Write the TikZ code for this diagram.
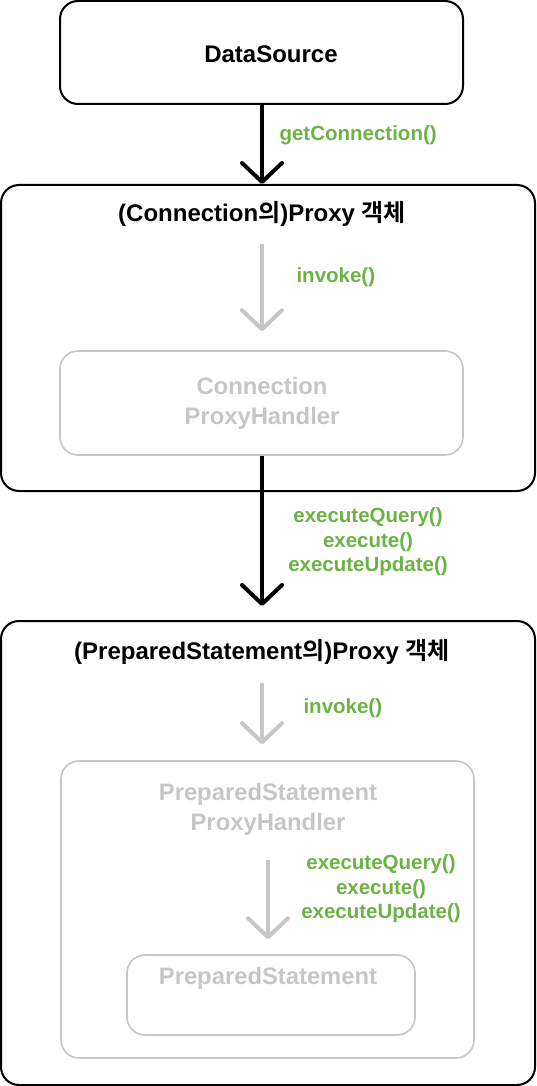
\documentclass[tikz,border=0pt]{standalone}
\usepackage{fontspec}
\setmainfont{Liberation Sans}
\newfontfamily\kr{Noto Sans CJK KR}[BoldFont={Noto Sans CJK KR Bold}]
\usetikzlibrary{arrows.meta}
\definecolor{callgreen}{HTML}{6AB344}
\definecolor{fadegray}{HTML}{C6C6C6}
\tikzset{
  box/.style={draw, line width=2pt, rounded corners=18pt, inner sep=0pt},
  fadebox/.style={draw=fadegray, line width=1.6pt, rounded corners=18pt, inner sep=0pt},
  boxtext/.style={font=\bfseries\fontsize{24}{28}\selectfont},
  fadetext/.style={text=fadegray, font=\bfseries\fontsize{23.8}{30}\selectfont, align=center},
  calltext/.style={text=callgreen, font=\bfseries\fontsize{20.5}{24.5}\selectfont, align=center},
  callarrow/.style={line width=4pt, -{Straight Barb[length=19pt,width=40pt,round]}},
  fadearrow/.style={callarrow, draw=fadegray},
}
\begin{document}
\begin{tikzpicture}[x=1pt,y=-1pt]
\useasboundingbox (0,0) rectangle (536,1086);
\node [box, minimum width=403pt, minimum height=103pt] (ds) at (261.5,52.5) {};
\node [boxtext] (dstext) at (271,54) {DataSource};
\node [box, minimum width=534pt, minimum height=306pt] (connproxy) at (268,338) {};
\node [boxtext] (conntitle) at (262,214) {(Connection{\kr 의})Proxy {\kr 객체}};
\node [fadebox, minimum width=403pt, minimum height=104pt] (connhandler) at (261.5,403) {};
\node [fadetext] (connhandlertext) at (262,403) {Connection\\ProxyHandler};
\node [box, minimum width=534pt, minimum height=464pt] (psproxy) at (268,853) {};
\node [boxtext] (pstitle) at (262,652) {(PreparedStatement{\kr 의})Proxy {\kr 객체}};
\node [fadebox, minimum width=413pt, minimum height=297pt] (pshandler) at (267.5,909.5) {};
\node [fadetext] (pshandlertext) at (268,809) {PreparedStatement\\ProxyHandler};
\node [fadebox, minimum width=288pt, minimum height=80pt] (ps) at (271,995) {};
\node [fadetext] (pstext) at (268,978) {PreparedStatement};
\coordinate (connin) at (262,244);
\coordinate (psin) at (262,683);
\coordinate (psout) at (268,860);
\coordinate (connout) at (262,606);
\draw [callarrow] (ds.south -| connin) -- (connproxy.north -| connin);
\node [calltext, anchor=west] (getconn) at (276,135) {getConnection()};
\draw [fadearrow, shorten >=19pt] (connin) -- (connin |- connhandler.north);
\node [calltext, anchor=west] (invconn) at (293,277) {invoke()};
\draw [callarrow] (connhandler.south -| connin) -- (connout);
\node [calltext] (execconn) at (368,542) {executeQuery()\\execute()\\executeUpdate()};
\draw [fadearrow, shorten >=16pt] (psin) -- (psin |- pshandler.north);
\node [calltext, anchor=west] (invps) at (300,708) {invoke()};
\draw [fadearrow, shorten >=15pt] (psout) -- (psout |- ps.north);
\node [calltext] (execps) at (381,889) {executeQuery()\\execute()\\executeUpdate()};
\end{tikzpicture}
\end{document}
